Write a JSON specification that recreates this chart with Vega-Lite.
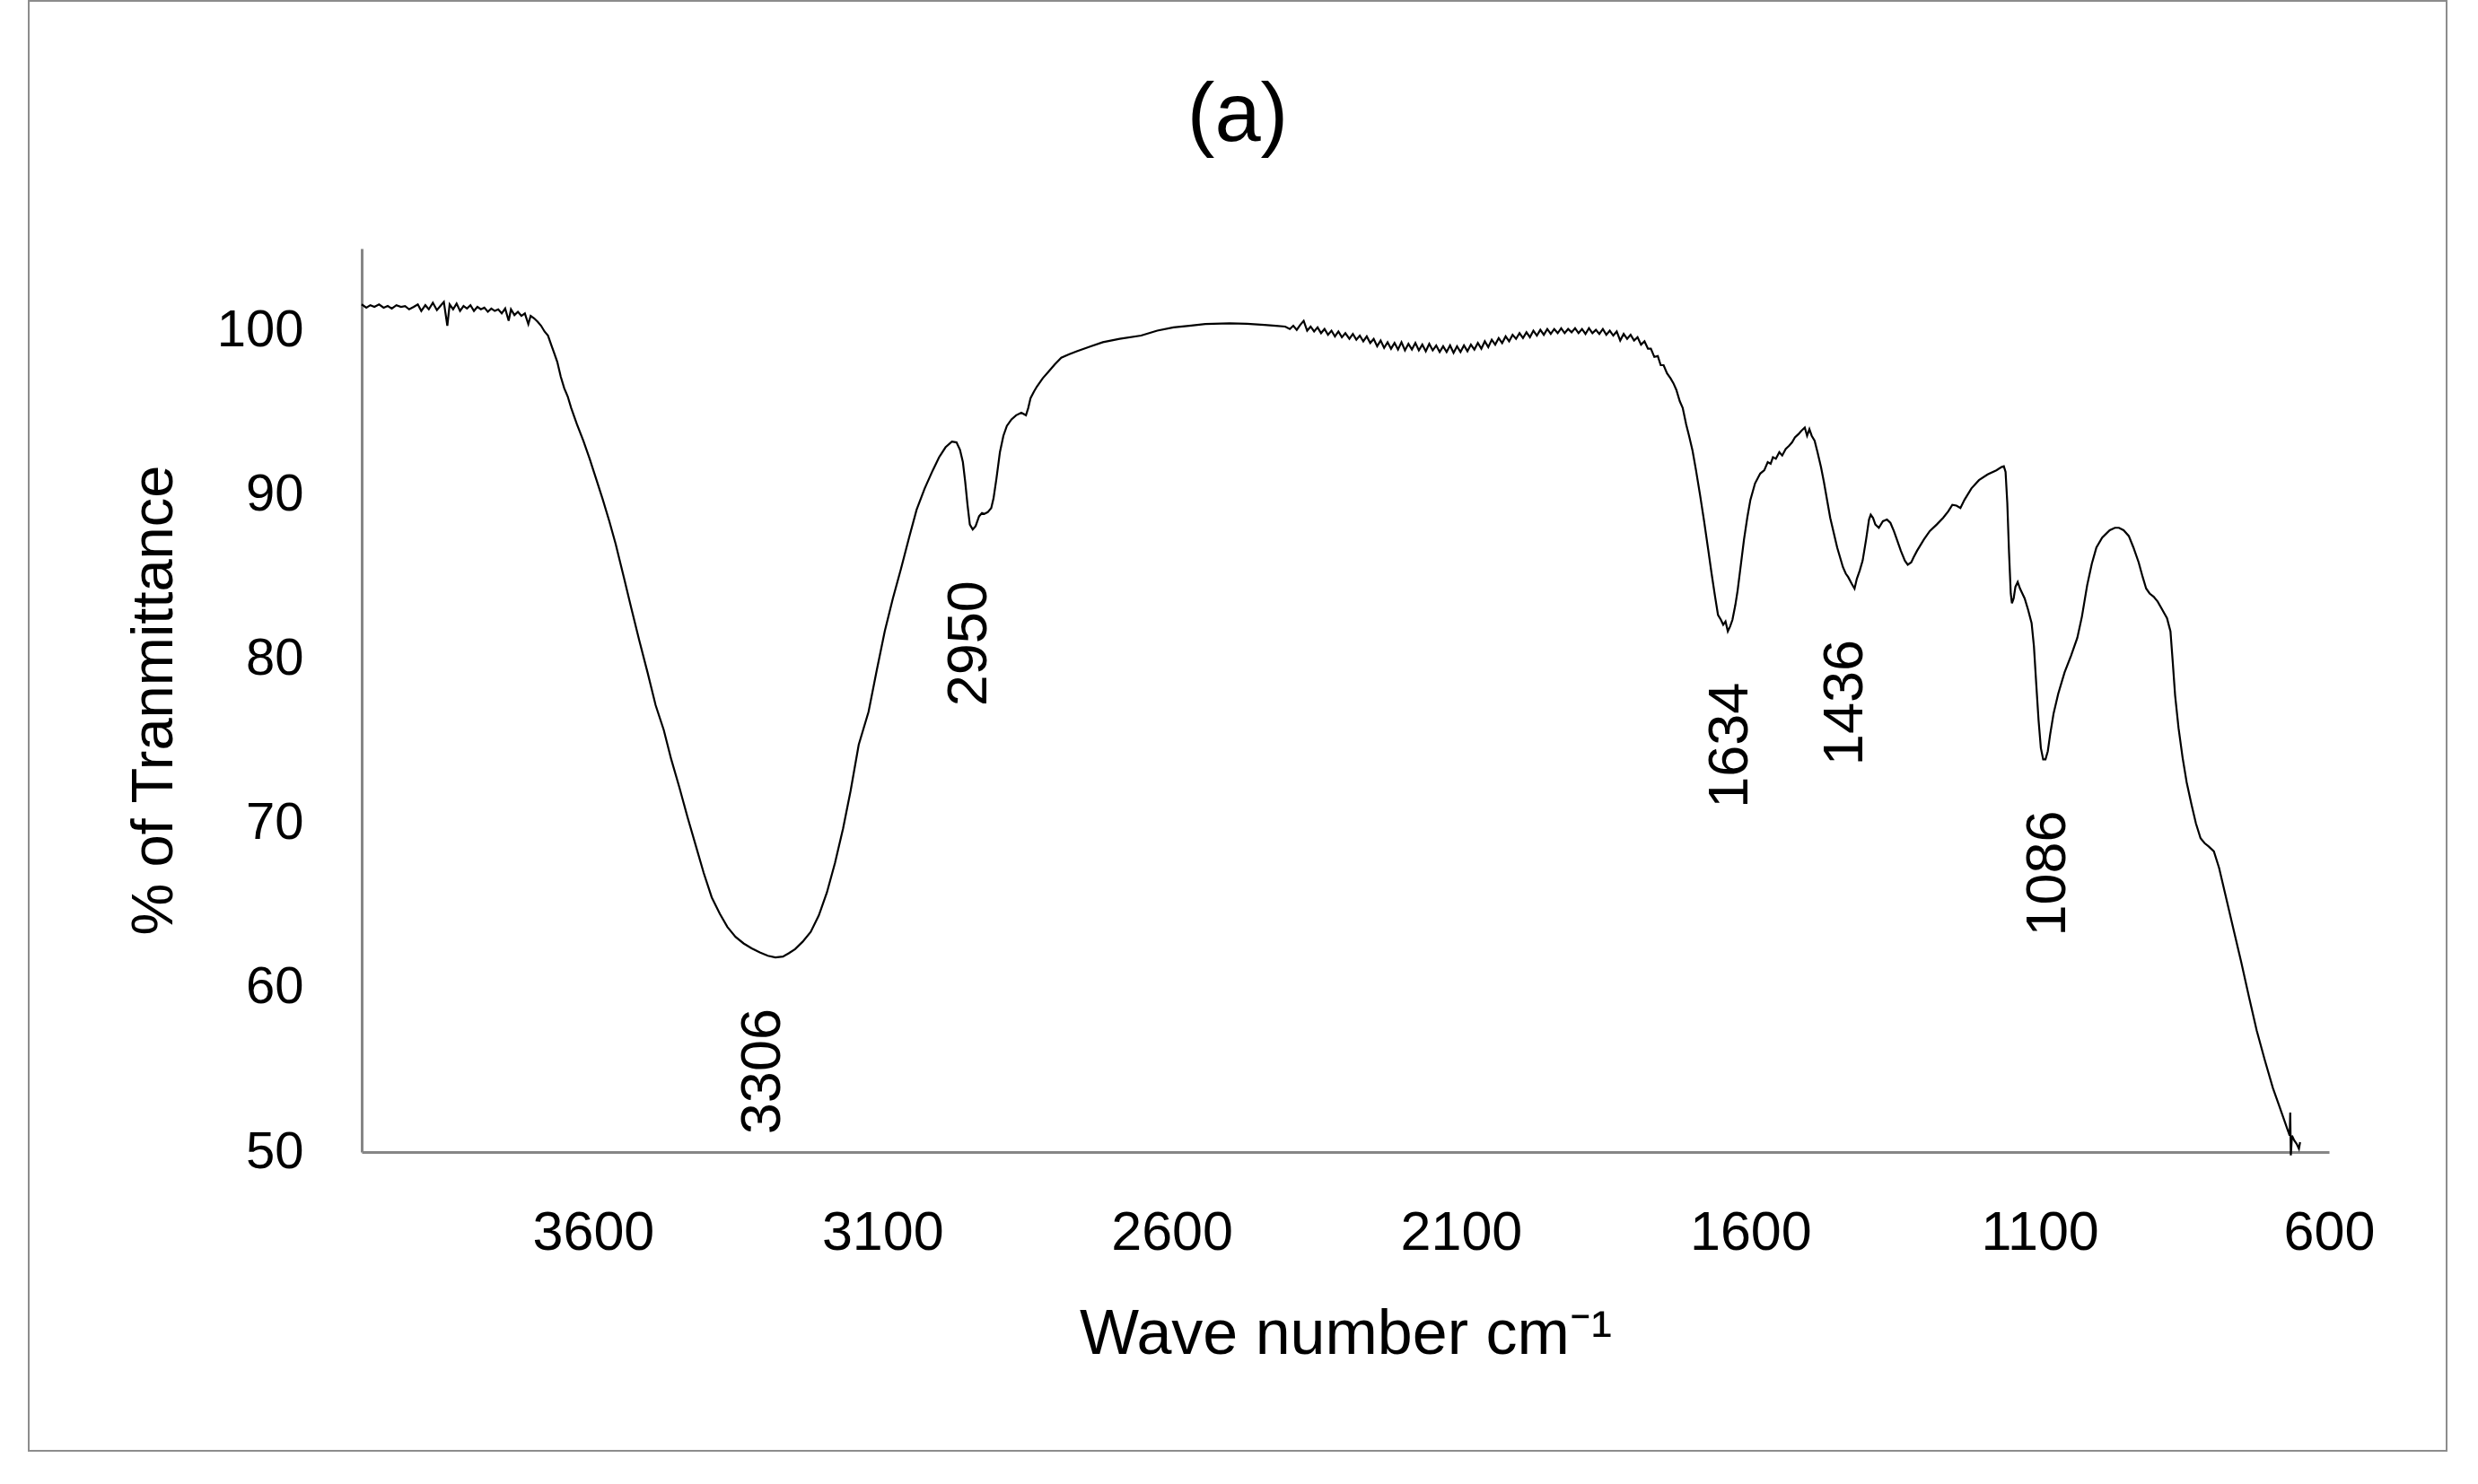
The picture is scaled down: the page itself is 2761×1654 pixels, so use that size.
{
  "$schema": "https://vega.github.io/schema/vega-lite/v6.json",
  "autosize": {"type": "none"},
  "padding": {"left": 32, "top": 1, "right": 35, "bottom": 37},
  "width": 2694,
  "height": 1616,
  "background": "white",
  "config": {
    "view": {"stroke": "#8c8c8c", "strokeWidth": 2},
    "axis": {"grid": false, "ticks": false, "labelOverlap": false, "labelFlush": false, "labelBound": false, "labelColor": "#000000", "titleColor": "#000000", "domainColor": "#868686", "domainWidth": 3}
  },
  "title": {
    "text": "(a)",
    "font": "Liberation Sans",
    "fontSize": 92,
    "fontWeight": "normal",
    "color": "#000000",
    "anchor": "middle",
    "frame": "group",
    "baseline": "alphabetic",
    "offset": -151,
    "dy": 97
  },
  "datasets": {
    "spectrum": [
      {"wavenumber": 4000, "transmittance": 101.6}, {"wavenumber": 3992, "transmittance": 101.4}, {"wavenumber": 3985, "transmittance": 101.55}, {"wavenumber": 3978, "transmittance": 101.45},
      {"wavenumber": 3970, "transmittance": 101.6}, {"wavenumber": 3962, "transmittance": 101.4}, {"wavenumber": 3955, "transmittance": 101.5}, {"wavenumber": 3948, "transmittance": 101.35},
      {"wavenumber": 3940, "transmittance": 101.55}, {"wavenumber": 3932, "transmittance": 101.45}, {"wavenumber": 3925, "transmittance": 101.5}, {"wavenumber": 3918, "transmittance": 101.3},
      {"wavenumber": 3910, "transmittance": 101.45}, {"wavenumber": 3903, "transmittance": 101.6}, {"wavenumber": 3897, "transmittance": 101.2}, {"wavenumber": 3890, "transmittance": 101.55},
      {"wavenumber": 3884, "transmittance": 101.3}, {"wavenumber": 3877, "transmittance": 101.7}, {"wavenumber": 3870, "transmittance": 101.25}, {"wavenumber": 3864, "transmittance": 101.5},
      {"wavenumber": 3858, "transmittance": 101.75}, {"wavenumber": 3852, "transmittance": 100.3}, {"wavenumber": 3848, "transmittance": 101.6}, {"wavenumber": 3842, "transmittance": 101.3},
      {"wavenumber": 3836, "transmittance": 101.65}, {"wavenumber": 3830, "transmittance": 101.2}, {"wavenumber": 3824, "transmittance": 101.5}, {"wavenumber": 3818, "transmittance": 101.35},
      {"wavenumber": 3812, "transmittance": 101.55}, {"wavenumber": 3806, "transmittance": 101.2}, {"wavenumber": 3800, "transmittance": 101.45}, {"wavenumber": 3794, "transmittance": 101.3},
      {"wavenumber": 3788, "transmittance": 101.4}, {"wavenumber": 3782, "transmittance": 101.15}, {"wavenumber": 3776, "transmittance": 101.35}, {"wavenumber": 3770, "transmittance": 101.2},
      {"wavenumber": 3764, "transmittance": 101.3}, {"wavenumber": 3758, "transmittance": 101.05}, {"wavenumber": 3752, "transmittance": 101.35}, {"wavenumber": 3746, "transmittance": 100.6},
      {"wavenumber": 3742, "transmittance": 101.3}, {"wavenumber": 3736, "transmittance": 100.95}, {"wavenumber": 3730, "transmittance": 101.15}, {"wavenumber": 3724, "transmittance": 100.9},
      {"wavenumber": 3718, "transmittance": 101.05}, {"wavenumber": 3712, "transmittance": 100.4}, {"wavenumber": 3708, "transmittance": 100.9}, {"wavenumber": 3702, "transmittance": 100.75},
      {"wavenumber": 3696, "transmittance": 100.55}, {"wavenumber": 3690, "transmittance": 100.3}, {"wavenumber": 3684, "transmittance": 99.95}, {"wavenumber": 3678, "transmittance": 99.7},
      {"wavenumber": 3672, "transmittance": 99.1}, {"wavenumber": 3667, "transmittance": 98.6}, {"wavenumber": 3662, "transmittance": 98.1}, {"wavenumber": 3656, "transmittance": 97.2},
      {"wavenumber": 3650, "transmittance": 96.5}, {"wavenumber": 3644, "transmittance": 96.0}, {"wavenumber": 3638, "transmittance": 95.3}, {"wavenumber": 3628, "transmittance": 94.3},
      {"wavenumber": 3617, "transmittance": 93.3}, {"wavenumber": 3606, "transmittance": 92.2}, {"wavenumber": 3595, "transmittance": 91.0}, {"wavenumber": 3584, "transmittance": 89.8},
      {"wavenumber": 3572, "transmittance": 88.4}, {"wavenumber": 3561, "transmittance": 87.0}, {"wavenumber": 3547, "transmittance": 85.0}, {"wavenumber": 3534, "transmittance": 83.1},
      {"wavenumber": 3520, "transmittance": 81.1}, {"wavenumber": 3506, "transmittance": 79.2}, {"wavenumber": 3492, "transmittance": 77.2}, {"wavenumber": 3478, "transmittance": 75.7},
      {"wavenumber": 3465, "transmittance": 73.9}, {"wavenumber": 3451, "transmittance": 72.2}, {"wavenumber": 3437, "transmittance": 70.4}, {"wavenumber": 3423, "transmittance": 68.7},
      {"wavenumber": 3409, "transmittance": 67.0}, {"wavenumber": 3395, "transmittance": 65.5}, {"wavenumber": 3381, "transmittance": 64.5}, {"wavenumber": 3368, "transmittance": 63.7},
      {"wavenumber": 3354, "transmittance": 63.1}, {"wavenumber": 3340, "transmittance": 62.7}, {"wavenumber": 3326, "transmittance": 62.4}, {"wavenumber": 3312, "transmittance": 62.15},
      {"wavenumber": 3298, "transmittance": 61.95}, {"wavenumber": 3285, "transmittance": 61.85}, {"wavenumber": 3272, "transmittance": 61.9}, {"wavenumber": 3262, "transmittance": 62.1},
      {"wavenumber": 3251, "transmittance": 62.35}, {"wavenumber": 3238, "transmittance": 62.8}, {"wavenumber": 3224, "transmittance": 63.4}, {"wavenumber": 3210, "transmittance": 64.4},
      {"wavenumber": 3196, "transmittance": 65.8}, {"wavenumber": 3182, "transmittance": 67.6}, {"wavenumber": 3168, "transmittance": 69.7}, {"wavenumber": 3155, "transmittance": 72.0},
      {"wavenumber": 3141, "transmittance": 74.8}, {"wavenumber": 3124, "transmittance": 76.8}, {"wavenumber": 3110, "transmittance": 79.3}, {"wavenumber": 3096, "transmittance": 81.7},
      {"wavenumber": 3082, "transmittance": 83.7}, {"wavenumber": 3068, "transmittance": 85.5}, {"wavenumber": 3054, "transmittance": 87.4}, {"wavenumber": 3041, "transmittance": 89.1},
      {"wavenumber": 3027, "transmittance": 90.4}, {"wavenumber": 3013, "transmittance": 91.5}, {"wavenumber": 3002, "transmittance": 92.3}, {"wavenumber": 2991, "transmittance": 92.9},
      {"wavenumber": 2980, "transmittance": 93.25}, {"wavenumber": 2972, "transmittance": 93.2}, {"wavenumber": 2966, "transmittance": 92.75}, {"wavenumber": 2961, "transmittance": 92.0},
      {"wavenumber": 2957, "transmittance": 90.8}, {"wavenumber": 2953, "transmittance": 89.4}, {"wavenumber": 2949, "transmittance": 88.2}, {"wavenumber": 2944, "transmittance": 87.9},
      {"wavenumber": 2939, "transmittance": 88.1}, {"wavenumber": 2933, "transmittance": 88.7}, {"wavenumber": 2928, "transmittance": 88.9}, {"wavenumber": 2924, "transmittance": 88.85},
      {"wavenumber": 2918, "transmittance": 88.95}, {"wavenumber": 2912, "transmittance": 89.2}, {"wavenumber": 2908, "transmittance": 89.8}, {"wavenumber": 2903, "transmittance": 91.0},
      {"wavenumber": 2897, "transmittance": 92.6}, {"wavenumber": 2891, "transmittance": 93.6}, {"wavenumber": 2885, "transmittance": 94.2}, {"wavenumber": 2877, "transmittance": 94.6},
      {"wavenumber": 2869, "transmittance": 94.85}, {"wavenumber": 2860, "transmittance": 95.0}, {"wavenumber": 2852, "transmittance": 94.85}, {"wavenumber": 2848, "transmittance": 95.3},
      {"wavenumber": 2844, "transmittance": 95.9}, {"wavenumber": 2838, "transmittance": 96.3}, {"wavenumber": 2833, "transmittance": 96.6}, {"wavenumber": 2823, "transmittance": 97.1},
      {"wavenumber": 2813, "transmittance": 97.5}, {"wavenumber": 2802, "transmittance": 97.95}, {"wavenumber": 2791, "transmittance": 98.35}, {"wavenumber": 2778, "transmittance": 98.55},
      {"wavenumber": 2764, "transmittance": 98.75}, {"wavenumber": 2740, "transmittance": 99.05}, {"wavenumber": 2719, "transmittance": 99.3}, {"wavenumber": 2690, "transmittance": 99.5},
      {"wavenumber": 2653, "transmittance": 99.7}, {"wavenumber": 2625, "transmittance": 100.0}, {"wavenumber": 2597, "transmittance": 100.2}, {"wavenumber": 2570, "transmittance": 100.3},
      {"wavenumber": 2542, "transmittance": 100.4}, {"wavenumber": 2500, "transmittance": 100.45}, {"wavenumber": 2470, "transmittance": 100.42}, {"wavenumber": 2440, "transmittance": 100.35},
      {"wavenumber": 2420, "transmittance": 100.3}, {"wavenumber": 2404, "transmittance": 100.25}, {"wavenumber": 2396, "transmittance": 100.1}, {"wavenumber": 2390, "transmittance": 100.3},
      {"wavenumber": 2384, "transmittance": 100.05}, {"wavenumber": 2378, "transmittance": 100.35}, {"wavenumber": 2372, "transmittance": 100.6}, {"wavenumber": 2366, "transmittance": 100.0},
      {"wavenumber": 2360, "transmittance": 100.25}, {"wavenumber": 2354, "transmittance": 99.95}, {"wavenumber": 2348, "transmittance": 100.2}, {"wavenumber": 2342, "transmittance": 99.85},
      {"wavenumber": 2336, "transmittance": 100.1}, {"wavenumber": 2330, "transmittance": 99.75}, {"wavenumber": 2324, "transmittance": 100.0}, {"wavenumber": 2318, "transmittance": 99.65},
      {"wavenumber": 2312, "transmittance": 99.95}, {"wavenumber": 2306, "transmittance": 99.6}, {"wavenumber": 2300, "transmittance": 99.85}, {"wavenumber": 2293, "transmittance": 99.5},
      {"wavenumber": 2287, "transmittance": 99.8}, {"wavenumber": 2281, "transmittance": 99.45}, {"wavenumber": 2275, "transmittance": 99.7}, {"wavenumber": 2269, "transmittance": 99.35},
      {"wavenumber": 2263, "transmittance": 99.65}, {"wavenumber": 2257, "transmittance": 99.25}, {"wavenumber": 2251, "transmittance": 99.5}, {"wavenumber": 2245, "transmittance": 99.05},
      {"wavenumber": 2239, "transmittance": 99.4}, {"wavenumber": 2233, "transmittance": 98.95}, {"wavenumber": 2227, "transmittance": 99.3}, {"wavenumber": 2221, "transmittance": 98.9},
      {"wavenumber": 2215, "transmittance": 99.25}, {"wavenumber": 2209, "transmittance": 98.85}, {"wavenumber": 2203, "transmittance": 99.3}, {"wavenumber": 2197, "transmittance": 98.8},
      {"wavenumber": 2191, "transmittance": 99.2}, {"wavenumber": 2185, "transmittance": 98.85}, {"wavenumber": 2179, "transmittance": 99.25}, {"wavenumber": 2173, "transmittance": 98.8},
      {"wavenumber": 2167, "transmittance": 99.15}, {"wavenumber": 2161, "transmittance": 98.75}, {"wavenumber": 2155, "transmittance": 99.2}, {"wavenumber": 2149, "transmittance": 98.8},
      {"wavenumber": 2143, "transmittance": 99.1}, {"wavenumber": 2137, "transmittance": 98.7}, {"wavenumber": 2131, "transmittance": 99.05}, {"wavenumber": 2125, "transmittance": 98.7},
      {"wavenumber": 2119, "transmittance": 99.1}, {"wavenumber": 2113, "transmittance": 98.65}, {"wavenumber": 2107, "transmittance": 99.05}, {"wavenumber": 2101, "transmittance": 98.7},
      {"wavenumber": 2095, "transmittance": 99.1}, {"wavenumber": 2089, "transmittance": 98.75}, {"wavenumber": 2083, "transmittance": 99.15}, {"wavenumber": 2077, "transmittance": 98.85},
      {"wavenumber": 2071, "transmittance": 99.25}, {"wavenumber": 2065, "transmittance": 98.9}, {"wavenumber": 2059, "transmittance": 99.35}, {"wavenumber": 2053, "transmittance": 99.0},
      {"wavenumber": 2047, "transmittance": 99.45}, {"wavenumber": 2041, "transmittance": 99.15}, {"wavenumber": 2035, "transmittance": 99.55}, {"wavenumber": 2029, "transmittance": 99.25},
      {"wavenumber": 2023, "transmittance": 99.65}, {"wavenumber": 2017, "transmittance": 99.35}, {"wavenumber": 2011, "transmittance": 99.75}, {"wavenumber": 2005, "transmittance": 99.5},
      {"wavenumber": 1999, "transmittance": 99.85}, {"wavenumber": 1993, "transmittance": 99.55}, {"wavenumber": 1987, "transmittance": 99.9}, {"wavenumber": 1981, "transmittance": 99.6},
      {"wavenumber": 1975, "transmittance": 100.0}, {"wavenumber": 1969, "transmittance": 99.7}, {"wavenumber": 1963, "transmittance": 100.05}, {"wavenumber": 1957, "transmittance": 99.75},
      {"wavenumber": 1951, "transmittance": 100.1}, {"wavenumber": 1945, "transmittance": 99.8}, {"wavenumber": 1939, "transmittance": 100.1}, {"wavenumber": 1933, "transmittance": 99.85},
      {"wavenumber": 1927, "transmittance": 100.15}, {"wavenumber": 1921, "transmittance": 99.85}, {"wavenumber": 1915, "transmittance": 100.1}, {"wavenumber": 1909, "transmittance": 99.9},
      {"wavenumber": 1903, "transmittance": 100.15}, {"wavenumber": 1897, "transmittance": 99.85}, {"wavenumber": 1891, "transmittance": 100.1}, {"wavenumber": 1885, "transmittance": 99.8},
      {"wavenumber": 1879, "transmittance": 100.15}, {"wavenumber": 1873, "transmittance": 99.85}, {"wavenumber": 1867, "transmittance": 100.05}, {"wavenumber": 1861, "transmittance": 99.8},
      {"wavenumber": 1855, "transmittance": 100.1}, {"wavenumber": 1849, "transmittance": 99.75}, {"wavenumber": 1843, "transmittance": 100.0}, {"wavenumber": 1837, "transmittance": 99.7},
      {"wavenumber": 1831, "transmittance": 99.95}, {"wavenumber": 1825, "transmittance": 99.4}, {"wavenumber": 1819, "transmittance": 99.8}, {"wavenumber": 1813, "transmittance": 99.5},
      {"wavenumber": 1807, "transmittance": 99.75}, {"wavenumber": 1801, "transmittance": 99.4}, {"wavenumber": 1795, "transmittance": 99.6}, {"wavenumber": 1789, "transmittance": 99.15},
      {"wavenumber": 1783, "transmittance": 99.35}, {"wavenumber": 1777, "transmittance": 98.9}, {"wavenumber": 1772, "transmittance": 98.9}, {"wavenumber": 1766, "transmittance": 98.4},
      {"wavenumber": 1760, "transmittance": 98.45}, {"wavenumber": 1755, "transmittance": 97.9}, {"wavenumber": 1750, "transmittance": 97.9}, {"wavenumber": 1744, "transmittance": 97.4},
      {"wavenumber": 1738, "transmittance": 97.1}, {"wavenumber": 1733, "transmittance": 96.8}, {"wavenumber": 1728, "transmittance": 96.4}, {"wavenumber": 1722, "transmittance": 95.7},
      {"wavenumber": 1717, "transmittance": 95.3}, {"wavenumber": 1711, "transmittance": 94.3}, {"wavenumber": 1706, "transmittance": 93.6}, {"wavenumber": 1700, "transmittance": 92.7},
      {"wavenumber": 1694, "transmittance": 91.5}, {"wavenumber": 1687, "transmittance": 90.0}, {"wavenumber": 1680, "transmittance": 88.4}, {"wavenumber": 1673, "transmittance": 86.7},
      {"wavenumber": 1667, "transmittance": 85.2}, {"wavenumber": 1661, "transmittance": 83.8}, {"wavenumber": 1656, "transmittance": 82.7}, {"wavenumber": 1651, "transmittance": 82.4},
      {"wavenumber": 1647, "transmittance": 82.1}, {"wavenumber": 1643, "transmittance": 82.3}, {"wavenumber": 1639, "transmittance": 81.7}, {"wavenumber": 1635, "transmittance": 82.0},
      {"wavenumber": 1631, "transmittance": 82.4}, {"wavenumber": 1626, "transmittance": 83.3}, {"wavenumber": 1622, "transmittance": 84.2}, {"wavenumber": 1617, "transmittance": 85.6},
      {"wavenumber": 1611, "transmittance": 87.3}, {"wavenumber": 1605, "transmittance": 88.7}, {"wavenumber": 1600, "transmittance": 89.7}, {"wavenumber": 1592, "transmittance": 90.7},
      {"wavenumber": 1583, "transmittance": 91.3}, {"wavenumber": 1576, "transmittance": 91.5}, {"wavenumber": 1570, "transmittance": 92.0}, {"wavenumber": 1565, "transmittance": 91.9},
      {"wavenumber": 1561, "transmittance": 92.3}, {"wavenumber": 1556, "transmittance": 92.2}, {"wavenumber": 1550, "transmittance": 92.6}, {"wavenumber": 1545, "transmittance": 92.4},
      {"wavenumber": 1539, "transmittance": 92.8}, {"wavenumber": 1533, "transmittance": 93.0}, {"wavenumber": 1528, "transmittance": 93.2}, {"wavenumber": 1523, "transmittance": 93.5},
      {"wavenumber": 1517, "transmittance": 93.7}, {"wavenumber": 1512, "transmittance": 93.9}, {"wavenumber": 1506, "transmittance": 94.1}, {"wavenumber": 1502, "transmittance": 93.6},
      {"wavenumber": 1498, "transmittance": 94.0}, {"wavenumber": 1494, "transmittance": 93.6}, {"wavenumber": 1489, "transmittance": 93.3}, {"wavenumber": 1484, "transmittance": 92.6},
      {"wavenumber": 1478, "transmittance": 91.7}, {"wavenumber": 1473, "transmittance": 90.8}, {"wavenumber": 1467, "transmittance": 89.6}, {"wavenumber": 1462, "transmittance": 88.6},
      {"wavenumber": 1456, "transmittance": 87.7}, {"wavenumber": 1450, "transmittance": 86.8}, {"wavenumber": 1445, "transmittance": 86.2}, {"wavenumber": 1440, "transmittance": 85.6},
      {"wavenumber": 1435, "transmittance": 85.2}, {"wavenumber": 1431, "transmittance": 85.0}, {"wavenumber": 1425, "transmittance": 84.6}, {"wavenumber": 1420, "transmittance": 84.3},
      {"wavenumber": 1416, "transmittance": 84.9}, {"wavenumber": 1411, "transmittance": 85.4}, {"wavenumber": 1406, "transmittance": 86.0}, {"wavenumber": 1400, "transmittance": 87.3},
      {"wavenumber": 1395, "transmittance": 88.5}, {"wavenumber": 1392, "transmittance": 88.8}, {"wavenumber": 1388, "transmittance": 88.6}, {"wavenumber": 1384, "transmittance": 88.2},
      {"wavenumber": 1378, "transmittance": 88.0}, {"wavenumber": 1371, "transmittance": 88.4}, {"wavenumber": 1364, "transmittance": 88.5}, {"wavenumber": 1358, "transmittance": 88.3},
      {"wavenumber": 1352, "transmittance": 87.8}, {"wavenumber": 1348, "transmittance": 87.4}, {"wavenumber": 1340, "transmittance": 86.6}, {"wavenumber": 1333, "transmittance": 86.0},
      {"wavenumber": 1328, "transmittance": 85.75}, {"wavenumber": 1322, "transmittance": 85.9}, {"wavenumber": 1318, "transmittance": 86.2}, {"wavenumber": 1312, "transmittance": 86.6},
      {"wavenumber": 1300, "transmittance": 87.3}, {"wavenumber": 1290, "transmittance": 87.8}, {"wavenumber": 1278, "transmittance": 88.2}, {"wavenumber": 1267, "transmittance": 88.6},
      {"wavenumber": 1258, "transmittance": 89.0}, {"wavenumber": 1251, "transmittance": 89.4}, {"wavenumber": 1244, "transmittance": 89.35}, {"wavenumber": 1237, "transmittance": 89.2},
      {"wavenumber": 1230, "transmittance": 89.7}, {"wavenumber": 1218, "transmittance": 90.4}, {"wavenumber": 1205, "transmittance": 90.9}, {"wavenumber": 1190, "transmittance": 91.25},
      {"wavenumber": 1175, "transmittance": 91.5}, {"wavenumber": 1166, "transmittance": 91.7}, {"wavenumber": 1162, "transmittance": 91.75}, {"wavenumber": 1159, "transmittance": 91.4},
      {"wavenumber": 1156, "transmittance": 89.5}, {"wavenumber": 1153, "transmittance": 86.5}, {"wavenumber": 1150, "transmittance": 84.0}, {"wavenumber": 1148, "transmittance": 83.4},
      {"wavenumber": 1145, "transmittance": 83.7}, {"wavenumber": 1142, "transmittance": 84.4}, {"wavenumber": 1138, "transmittance": 84.7}, {"wavenumber": 1134, "transmittance": 84.3},
      {"wavenumber": 1130, "transmittance": 84.0}, {"wavenumber": 1126, "transmittance": 83.7}, {"wavenumber": 1120, "transmittance": 83.0}, {"wavenumber": 1114, "transmittance": 82.2},
      {"wavenumber": 1110, "transmittance": 80.8}, {"wavenumber": 1106, "transmittance": 78.5}, {"wavenumber": 1102, "transmittance": 76.3}, {"wavenumber": 1098, "transmittance": 74.6},
      {"wavenumber": 1094, "transmittance": 73.9}, {"wavenumber": 1090, "transmittance": 73.9}, {"wavenumber": 1086, "transmittance": 74.4}, {"wavenumber": 1082, "transmittance": 75.4},
      {"wavenumber": 1076, "transmittance": 76.7}, {"wavenumber": 1068, "transmittance": 77.9}, {"wavenumber": 1057, "transmittance": 79.2}, {"wavenumber": 1046, "transmittance": 80.2},
      {"wavenumber": 1035, "transmittance": 81.3}, {"wavenumber": 1027, "transmittance": 82.6}, {"wavenumber": 1018, "transmittance": 84.5}, {"wavenumber": 1010, "transmittance": 85.8},
      {"wavenumber": 1002, "transmittance": 86.8}, {"wavenumber": 992, "transmittance": 87.4}, {"wavenumber": 979, "transmittance": 87.85}, {"wavenumber": 970, "transmittance": 88.0},
      {"wavenumber": 963, "transmittance": 88.0}, {"wavenumber": 955, "transmittance": 87.85}, {"wavenumber": 946, "transmittance": 87.5}, {"wavenumber": 938, "transmittance": 86.8},
      {"wavenumber": 929, "transmittance": 85.9}, {"wavenumber": 922, "transmittance": 85.0}, {"wavenumber": 916, "transmittance": 84.3}, {"wavenumber": 910, "transmittance": 84.0},
      {"wavenumber": 903, "transmittance": 83.8}, {"wavenumber": 896, "transmittance": 83.5}, {"wavenumber": 888, "transmittance": 83.0}, {"wavenumber": 880, "transmittance": 82.5},
      {"wavenumber": 874, "transmittance": 81.7}, {"wavenumber": 870, "transmittance": 79.8}, {"wavenumber": 866, "transmittance": 77.8}, {"wavenumber": 860, "transmittance": 75.8},
      {"wavenumber": 853, "transmittance": 74.0}, {"wavenumber": 846, "transmittance": 72.5}, {"wavenumber": 838, "transmittance": 71.2}, {"wavenumber": 830, "transmittance": 70.0},
      {"wavenumber": 822, "transmittance": 69.1}, {"wavenumber": 815, "transmittance": 68.8}, {"wavenumber": 808, "transmittance": 68.6}, {"wavenumber": 799, "transmittance": 68.3},
      {"wavenumber": 790, "transmittance": 67.3}, {"wavenumber": 780, "transmittance": 65.8}, {"wavenumber": 766, "transmittance": 63.7}, {"wavenumber": 752, "transmittance": 61.6},
      {"wavenumber": 738, "transmittance": 59.4}, {"wavenumber": 725, "transmittance": 57.4}, {"wavenumber": 711, "transmittance": 55.6}, {"wavenumber": 697, "transmittance": 53.9},
      {"wavenumber": 686, "transmittance": 52.8}, {"wavenumber": 678, "transmittance": 52.0}, {"wavenumber": 672, "transmittance": 51.4}, {"wavenumber": 668, "transmittance": 51.0},
      {"wavenumber": 667, "transmittance": 52.4}, {"wavenumber": 666, "transmittance": 49.8}, {"wavenumber": 664, "transmittance": 51.0}, {"wavenumber": 660, "transmittance": 50.7},
      {"wavenumber": 656, "transmittance": 50.5}, {"wavenumber": 652, "transmittance": 50.2}, {"wavenumber": 650, "transmittance": 50.6}
    ],
    "peaks": [
      {"wavenumber": 3306, "transmittance": 61.85, "label": "3306"},
      {"wavenumber": 2950, "transmittance": 87.9, "label": "2950"},
      {"wavenumber": 1634, "transmittance": 81.7, "label": "1634"},
      {"wavenumber": 1436, "transmittance": 84.3, "label": "1436"},
      {"wavenumber": 1086, "transmittance": 73.9, "label": "1086"}
    ]
  },
  "encoding": {
    "x": {
      "field": "wavenumber",
      "type": "quantitative",
      "scale": {"domain": [4000, 600], "range": [371, 2563], "nice": false, "zero": false},
      "axis": {
        "orient": "bottom",
        "offset": -333,
        "values": [3600, 3100, 2600, 2100, 1600, 1100, 600],
        "format": "d",
        "labelFont": "Liberation Sans",
        "labelFontSize": 61,
        "labelPadding": 60,
        "title": "Wave number cm⁻¹",
        "titleFont": "Liberation Sans",
        "titleFontSize": 70,
        "titleFontWeight": "normal",
        "titleX": 1467,
        "titleY": 224,
        "titleBaseline": "alphabetic",
        "titleAlign": "center"
      }
    },
    "y": {
      "field": "transmittance",
      "type": "quantitative",
      "scale": {"domain": [50, 105], "range": [1283, 276], "nice": false, "zero": false},
      "axis": {
        "orient": "left",
        "offset": -371,
        "values": [50, 60, 70, 80, 90, 100],
        "labelFont": "Liberation Sans",
        "labelFontSize": 58,
        "labelPadding": 65,
        "title": "% of Tranmittance",
        "titleFont": "Liberation Sans",
        "titleFontSize": 65,
        "titleFontWeight": "normal",
        "titleAngle": -90,
        "titleX": -232,
        "titleY": 779,
        "titleAlign": "center",
        "titleBaseline": "middle"
      }
    }
  },
  "layer": [
    {
      "data": {"name": "spectrum"},
      "mark": {"type": "line", "color": "#000000", "strokeWidth": 2.2, "clip": false}
    },
    {
      "data": {"name": "peaks"},
      "mark": {"type": "text", "angle": 270, "align": "right", "baseline": "middle", "dx": -57, "font": "Liberation Sans", "fontSize": 63, "color": "#000000"},
      "encoding": {"text": {"field": "label"}}
    }
  ]
}
